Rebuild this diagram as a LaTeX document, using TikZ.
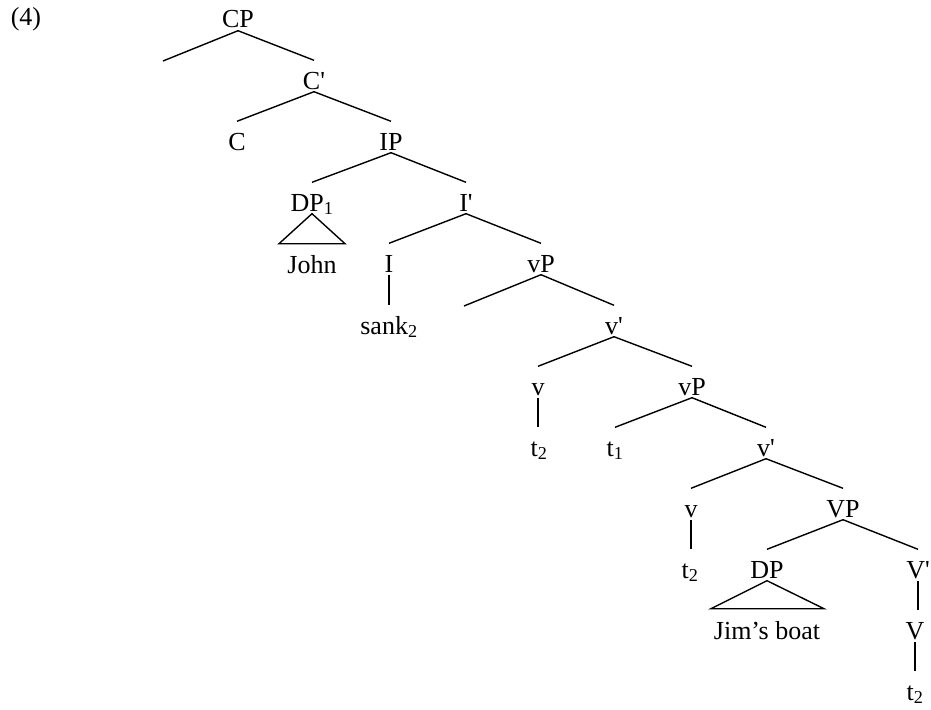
\documentclass[tikz,border=0pt]{standalone}
\usepackage{fontspec}
\setmainfont{Liberation Serif}
\usepackage{tikz}

\tikzset{
  cat/.style={anchor=base, inner xsep=0pt, inner ysep=2pt, text height=26pt, text depth=0pt},
}

\begin{document}
\begin{tikzpicture}[x=1pt, y=-1pt, line width=1.4pt, font=\fontsize{26}{31}\selectfont]
    \useasboundingbox (0,0) rectangle (931,709);
    \node[cat] (ex) at (26,26) {(4)};
    % categories and words, baselines about 61 apart
    \foreach \n/\x/\y/\t in {CP/238/28/CP, Cb/314/89/C\textquotesingle, C/237/150/C, IP/391/150/IP,
        DPa/312/211/DP\textsubscript{1}, John/312/273/John, Ib/466/211/I\textquotesingle,
        I/389/272/I, sank/389/334/sank\textsubscript{2}, vPa/541/272/vP, vba/614/334/v\textquotesingle,
        va/538/395/v, ta/539/456/t\textsubscript{2}, vPb/692/395/vP, tb/615/456/t\textsubscript{1},
        vbb/766/456/v\textquotesingle, vb/691/517/v, tc/690/578/t\textsubscript{2}, VP/843/517/VP,
        DP/767/578/DP, Jim/767/639/Jim’s boat, Vb/918/578/V\textquotesingle, V/915/639/V,
        td/915/700/t\textsubscript{2}}
      \node[cat] (\n) at (\x,\y) {\t};
    \coordinate (cpl) at (163,61);
    \coordinate (vpl) at (464,306);
    \draw (CP.south) -- (cpl);
    \draw (vPa.south) -- (vpl);
    \foreach \a/\b in {CP/Cb, Cb/C, Cb/IP, IP/DPa, IP/Ib, Ib/I, Ib/vPa, vPa/vba, vba/va, vba/vPb,
        vPb/tb, vPb/vbb, vbb/vb, vbb/VP, VP/DP, VP/Vb}
      \draw (\a.south) -- (\b.north);
    \foreach \a/\b in {I/sank, va/ta, vb/tc, Vb/V, V/td}
      \draw (\a.south) -- (\a.south |- \b.north);
    % roofs
    \draw (DPa.south) -- ++(-33,30) -- ++(66,0) -- cycle;
    \draw (DP.south) -- ++(-56,28) -- ++(113,0) -- cycle;
\end{tikzpicture}
\end{document}
